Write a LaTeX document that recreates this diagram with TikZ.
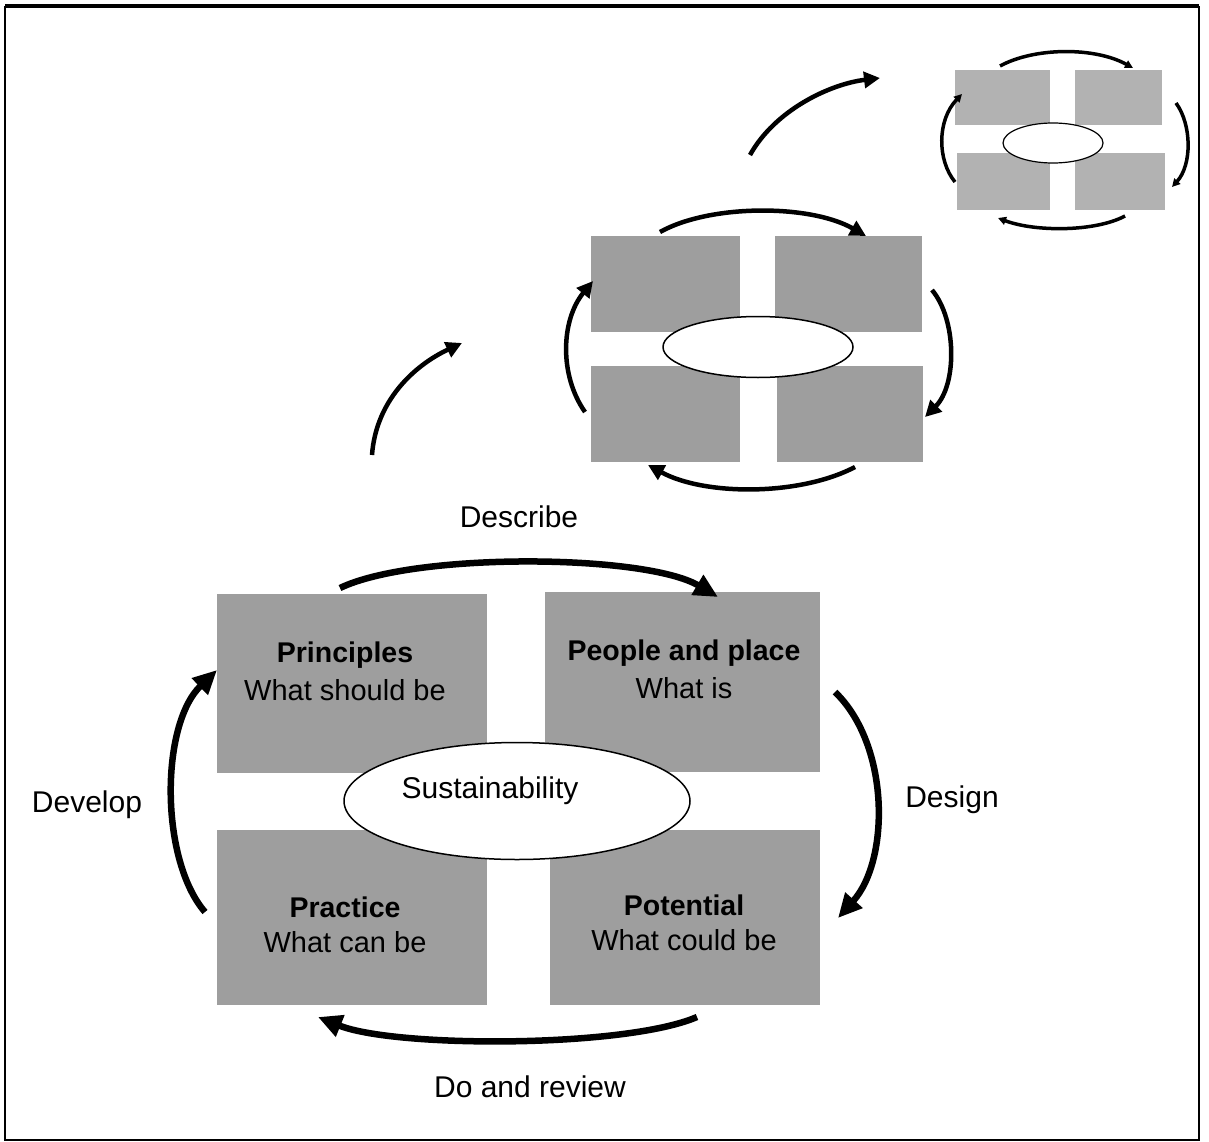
\documentclass[tikz,border=0pt]{standalone}
\usepackage{fontspec}
\setmainfont{Liberation Sans}
\usetikzlibrary{arrows.meta,shapes.geometric}
\begin{document}
\begin{tikzpicture}[x=1pt,y=-1pt,
  box/.style={fill=black!38,draw=none},
  ell/.style={ellipse,draw=black,line width=1.5pt,fill=white,inner sep=0pt},
  bigarr/.style={line width=6.5pt,-{Triangle[length=24pt,width=22pt]}},
  midarr/.style={line width=4.5pt,-{Triangle[length=16pt,width=16pt]}},
  smallarr/.style={line width=3.5pt,-{Triangle[length=8pt,width=8pt]}},
  lbl/.style={font=\fontsize{30}{34}\selectfont,inner sep=0pt},
  btitle/.style={font=\fontsize{28.5}{32}\selectfont\bfseries,inner sep=0pt},
  bsub/.style={font=\fontsize{29}{32}\selectfont,inner sep=0pt}]
\useasboundingbox (0,0) rectangle (1209,1142);
\fill[white] (0,0) rectangle (1209,1142);
% frame
\draw[line width=2.2pt] (5,7) rectangle (1199,1140);
\draw[line width=4pt] (5,6) -- (1199,6);

% ---------- main diagram ----------
\fill[box] (217,594) rectangle (487,773);
\fill[box] (545,592) rectangle (820,772);
\fill[box] (217,830) rectangle (487,1005);
\fill[box] (550,830) rectangle (820,1005);
\node[ell,minimum width=346pt,minimum height=117pt] (sus) at (517,801) {};
\node[lbl] (sustxt) at (490,791) {Sustainability};

\node[btitle] (prT) at (345,655) {Principles};
\node[bsub] (prS) at (345,690) {What should be};
\node[btitle] (ppT) at (684,653) {People and place};
\node[bsub] (ppS) at (684,688) {What is};
\node[btitle] (paT) at (345,907) {Practice};
\node[bsub] (paS) at (345,942) {What can be};
\node[btitle] (poT) at (684,905) {Potential};
\node[bsub] (poS) at (684,940) {What could be};

\node[lbl] (describe) at (519,517) {Describe};
\node[lbl] (design) at (952,800) {Design};
\node[lbl] (develop) at (87,805) {Develop};
\node[lbl] (doreview) at (530,1087) {Do and review};

\coordinate (mA1) at (340,588); \coordinate (mA2) at (718,597);
\coordinate (mB1) at (835,692); \coordinate (mB2) at (838,918);
\coordinate (mC1) at (697,1017); \coordinate (mC2) at (318,1017);
\coordinate (mD1) at (205,912); \coordinate (mD2) at (217,670);
\draw[bigarr] (mA1) .. controls (415,552) and (645,554) .. (mA2);
\draw[bigarr] (mB1) .. controls (890,745) and (890,860) .. (mB2);
\draw[bigarr] (mC1) .. controls (625,1048) and (395,1048) .. (mC2);
\draw[bigarr] (mD1) .. controls (160,860) and (160,725) .. (mD2);

% connector from main to middle
\coordinate (c1a) at (372,455); \coordinate (c1b) at (462,343);
\draw[midarr] (c1a) .. controls (376,400) and (415,365) .. (c1b);

% ---------- middle diagram ----------
\fill[box] (591,236) rectangle (740,332);
\fill[box] (775,236) rectangle (922,332);
\fill[box] (591,366) rectangle (740,462);
\fill[box] (777,366) rectangle (923,462);
\node[ell,minimum width=190pt,minimum height=61pt] (mid) at (758,347) {};
\draw[midarr] (660,232) .. controls (710,204) and (810,204) .. (866,236);
\draw[midarr] (932,290) .. controls (957,320) and (957,385) .. (925,417);
\draw[midarr] (855,467) .. controls (800,496) and (705,496) .. (648,465);
\draw[midarr] (585,412) .. controls (559,375) and (561,320) .. (593,281);

% connector from middle to small
\coordinate (c2a) at (750,155); \coordinate (c2b) at (880,78);
\draw[midarr] (c2a) .. controls (775,110) and (830,84) .. (c2b);

% ---------- small diagram ----------
\fill[box,fill=black!30] (955,70) rectangle (1050,125);
\fill[box,fill=black!30] (1075,70) rectangle (1162,125);
\fill[box,fill=black!30] (957,153) rectangle (1050,210);
\fill[box,fill=black!30] (1075,153) rectangle (1165,210);
\node[ell,line width=1.2pt,minimum width=100pt,minimum height=40pt] (sml) at (1053,143) {};
\draw[smallarr] (1000,66) .. controls (1035,47) and (1095,47) .. (1133,68);
\draw[smallarr] (1176,103) .. controls (1192,125) and (1192,165) .. (1172,187);
\draw[smallarr] (1125,216) .. controls (1095,232) and (1035,232) .. (998,218);
\draw[smallarr] (955,182) .. controls (937,160) and (937,120) .. (962,94);
\end{tikzpicture}
\end{document}
